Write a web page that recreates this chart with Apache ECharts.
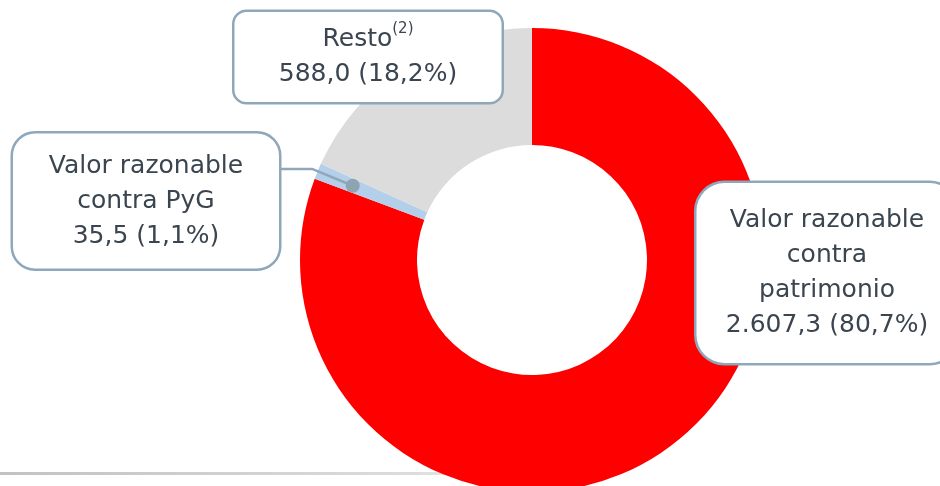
<!DOCTYPE html>
<html style="height: 100%">
<head>
    <meta charset="utf-8">
</head>
<body style="height: 100%; margin: 0; background: #fff">
<div id="container" style="width: 940px; height: 486px"></div>
<script src="https://cdn.jsdelivr.net/npm/echarts@6/dist/echarts.min.js"></script>
<script type="text/javascript">
    // datos de la cartera (millones)
    var names = ['Valor razonable\ncontra\npatrimonio', 'Valor razonable\ncontra PyG', 'Resto'];
    var values = [2607.3, 35.5, 588.0];
    var shares = [80.7, 1.1, 18.2];
    var notes = ['', '', '(2)'];
    var colors = ['#ff0000', '#b3cfe9', '#dcdcdc'];

    var cx = 532, cy = 260, rIn = 115, rOut = 232;
    // caja de cada etiqueta: centro y tamaño
    var boxes = [
        {x: 827, y: 273, w: 261, pad: 20, r: 28},
        {x: 146, y: 201, w: 266, pad: 15, r: 22},
        {x: 368, y: 57, w: 267, pad: 10, r: 12}
    ];

    function fmt(v) {
        var parts = v.toFixed(1).split('.');
        var ent = parts[0].replace(/\B(?=(\d{3})+(?!\d))/g, '.');
        return ent + ',' + parts[1];
    }

    // angulo medio de cada sector (desde arriba, sentido horario)
    var total = values.reduce(function (a, b) { return a + b; }, 0);
    var midAngles = [], acc = 0;
    for (var i = 0; i < values.length; i++) {
        midAngles.push((acc + values[i] / 2) / total * 2 * Math.PI);
        acc += values[i];
    }
    function polar(i, r) {
        return [cx + r * Math.sin(midAngles[i]), cy - r * Math.cos(midAngles[i])];
    }

    var dom = document.getElementById("container");
    var myChart = echarts.init(dom);

    // linea guia de la etiqueta PyG
    var dot = polar(1, 194);
    var elbow = polar(1, 238);
    var lineEnd = [boxes[1].x + boxes[1].w / 2, elbow[1]];

    var data = values.map(function (v, i) {
        return {
            name: names[i],
            value: v,
            itemStyle: {color: colors[i]},
            label: {
                width: boxes[i].w,
                padding: [boxes[i].pad, 0],
                borderRadius: boxes[i].r
            }
        };
    });

    var option = {
        animation: false,
        graphic: [
            {
                type: 'rect',
                z: -10,
                shape: {x: 0, y: 472, width: 690, height: 3},
                style: {
                    fill: new echarts.graphic.LinearGradient(0, 0, 1, 0, [
                        {offset: 0, color: '#c2c2c2'},
                        {offset: 0.6, color: '#dcdcdc'},
                        {offset: 1, color: 'rgba(255,255,255,0)'}
                    ])
                }
            },
            {
                type: 'polyline',
                z: 100,
                shape: {points: [dot, elbow, lineEnd]},
                style: {stroke: '#8ea7bb', lineWidth: 2.5, fill: null}
            },
            {
                type: 'circle',
                z: 101,
                shape: {cx: dot[0], cy: dot[1], r: 7},
                style: {fill: '#8fa3b3'}
            }
        ],
        series: [
            {
                type: 'pie',
                center: [cx, cy],
                radius: [rIn, rOut],
                startAngle: 90,
                clockwise: true,
                avoidLabelOverlap: false,
                silent: true,
                itemStyle: {borderWidth: 0},
                labelLine: {show: false},
                label: {
                    show: true,
                    position: 'outside',
                    backgroundColor: '#fff',
                    borderColor: '#8ea7bb',
                    borderWidth: 2.5,
                    align: 'center',
                    formatter: function (p) {
                        var i = p.dataIndex;
                        var lines = names[i].split('\n');
                        var out = lines.map(function (l, k) {
                            var s = '{t|' + l + '}';
                            if (k === lines.length - 1 && notes[i]) s += '{sup|' + notes[i] + '}';
                            return s;
                        });
                        out.push('{t|' + fmt(values[i]) + ' (' + fmt(shares[i]) + '%)}');
                        return out.join('\n');
                    },
                    rich: {
                        t: {
                            fontFamily: 'DejaVu Sans',
                            fontSize: 25,
                            lineHeight: 35,
                            color: '#3a4550'
                        },
                        sup: {
                            fontFamily: 'DejaVu Sans',
                            fontSize: 15,
                            lineHeight: 35,
                            verticalAlign: 'top',
                            padding: [0, 0, 14, 0],
                            color: '#3a4550'
                        }
                    }
                },
                labelLayout: function (params) {
                    var b = boxes[params.dataIndex];
                    return {x: b.x, y: b.y, align: 'center', verticalAlign: 'middle'};
                },
                data: data
            }
        ]
    };
    myChart.setOption(option, true);
</script>
</body>
</html>
